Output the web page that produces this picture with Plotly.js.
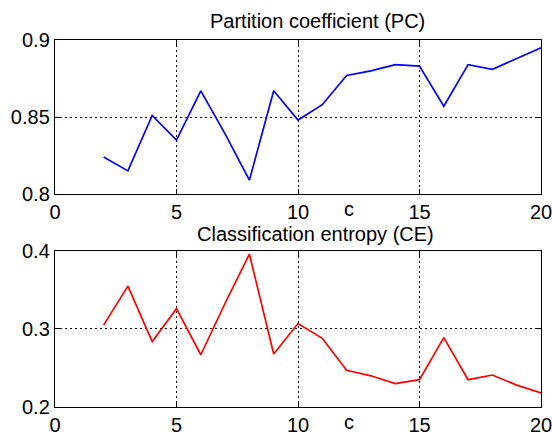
<!DOCTYPE html>
<html>
<head>
<meta charset="utf-8">
<script src="https://cdn.plot.ly/plotly-3.0.1.min.js"></script>
<style>html,body{margin:0;padding:0;background:#fff;}#chart{width:552px;height:435px;}</style>
</head>
<body>
<div id="chart"></div>
<script>
const clusters = [2,3,4,5,6,7,8,9,10,11,12,13,14,15,16,17,18,19,20];
const pcValues = [0.824,0.815,0.851,0.835,0.867,0.839,0.809,0.867,0.848,0.858,0.877,0.880,0.884,0.883,0.857,0.884,0.881,0.888,0.895];
const ceValues = [0.305,0.355,0.284,0.326,0.267,0.333,0.396,0.268,0.307,0.288,0.247,0.240,0.230,0.235,0.289,0.235,0.241,0.228,0.218];
const xTicks = [0,5,10,15,20];
const pcTicks = [0.8,0.85,0.9];
const pcTickText = ['0.8','0.85','0.9'];
const ceTicks = [0.2,0.3,0.4];
const ceTickText = ['0.2','0.3','0.4'];
const pcTitle = 'Partition coefficient (PC)';
const ceTitle = 'Classification entropy (CE)';
const xLabel = 'c';

const FONT = 'Liberation Sans, Arial, Helvetica, sans-serif';

const traces = [
  {x: clusters, y: pcValues, type: 'scatter', mode: 'lines', line: {color: '#0000ff', width: 1.7}, xaxis: 'x', yaxis: 'y', hoverinfo: 'skip'},
  {x: clusters, y: ceValues, type: 'scatter', mode: 'lines', line: {color: '#ff0000', width: 1.7}, xaxis: 'x2', yaxis: 'y2', hoverinfo: 'skip'}
];

function xAxis(anchor) {
  return {
    range: [0, 20], tickvals: xTicks, ticktext: xTicks.map(String),
    ticks: 'inside', ticklen: 5, tickwidth: 1, tickcolor: '#000',
    showline: true, linecolor: '#000', linewidth: 1.2, mirror: 'ticks',
    showgrid: true, gridcolor: '#000', gridwidth: 1, griddash: '2px,3px',
    zeroline: false, anchor: anchor, ticklabeloverflow: 'allow',
    tickfont: {family: FONT, size: 20, color: '#000'}
  };
}
function yAxis(anchor, domain, range, vals, text) {
  return {
    domain: domain, range: range, tickvals: vals, ticktext: text,
    ticks: 'inside', ticklen: 5, tickwidth: 1, tickcolor: '#000',
    showline: true, linecolor: '#000', linewidth: 1.2, mirror: 'ticks',
    showgrid: true, gridcolor: '#000', gridwidth: 1, griddash: '2px,3px',
    zeroline: false, anchor: anchor, ticklabeloverflow: 'allow',
    tickfont: {family: FONT, size: 20, color: '#000'}
  };
}

const layout = {
  width: 552, height: 435,
  margin: {l: 55, r: 11, t: 40, b: 28},
  paper_bgcolor: '#fff', plot_bgcolor: '#fff',
  showlegend: false,
  font: {family: FONT, color: '#000'},
  xaxis: xAxis('y'),
  yaxis: yAxis('x', [0.5804, 1], [0.8, 0.9], pcTicks, pcTickText),
  xaxis2: xAxis('y2'),
  yaxis2: yAxis('x2', [0, 0.4251], [0.2, 0.4], ceTicks, ceTickText),
  annotations: [
    {text: pcTitle, xref: 'paper', yref: 'paper', x: 0.54, y: 1.0518, showarrow: false, font: {family: FONT, size: 20, color: '#000'}, xanchor: 'center', yanchor: 'middle'},
    {text: ceTitle, xref: 'paper', yref: 'paper', x: 0.535, y: 0.4714, showarrow: false, font: {family: FONT, size: 20, color: '#000'}, xanchor: 'center', yanchor: 'middle'},
    {text: xLabel, xref: 'x', yref: 'paper', x: 12.1, y: 0.5395, showarrow: false, font: {family: FONT, size: 20, color: '#000'}, xanchor: 'center', yanchor: 'middle'},
    {text: xLabel, xref: 'x2', yref: 'paper', x: 12.1, y: -0.041, showarrow: false, font: {family: FONT, size: 20, color: '#000'}, xanchor: 'center', yanchor: 'middle'}
  ]
};

Plotly.newPlot('chart', traces, layout, {staticPlot: true, displayModeBar: false});
</script>
</body>
</html>
